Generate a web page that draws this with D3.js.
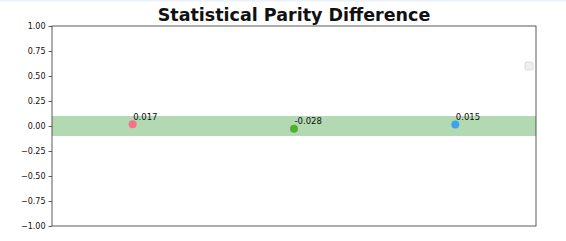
<!DOCTYPE html>
<html>
<head>
<meta charset="utf-8">
<script src="https://cdn.jsdelivr.net/npm/d3@7"></script>
<style>
  body { margin: 0; background: #fff; }
  svg { display: block; font-family: 'DejaVu Sans', sans-serif; }
</style>
</head>
<body>
<div id="chart"></div>
<script>
// Values
const groups = ['g0', 'g1', 'g2']
const parity = [0.017, -0.028, 0.015]
const colors = ['#f77189', '#50b131', '#3ba3ec']
const yTicks = [-1, -0.75, -0.5, -0.25, 0, 0.25, 0.5, 0.75, 1]
const fairBand = [-0.1, 0.1]

const width = 566, height = 241
const margin = { top: 26, right: 30, bottom: 15, left: 52 }

const svg = d3.select('#chart')
    .append('svg')
    .attr('width', width)
    .attr('height', height)

// thin tinted strip along the top of the frame
svg.append('rect')
    .attr('x', 0).attr('y', 0)
    .attr('width', width).attr('height', 1.5)
    .attr('fill', '#eaf2fb')

const x = d3.scalePoint()
    .domain(groups)
    .range([margin.left, width - margin.right])
    .padding(0.5)

const y = d3.scaleLinear()
    .domain([-1, 1])
    .range([height - margin.bottom, margin.top])

// acceptable band
svg.append('rect')
    .attr('x', margin.left)
    .attr('y', y(fairBand[1]))
    .attr('width', width - margin.right - margin.left)
    .attr('height', y(fairBand[0]) - y(fairBand[1]))
    .attr('fill', '#b3d9b3')

// frame
svg.append('rect')
    .attr('x', margin.left)
    .attr('y', margin.top)
    .attr('width', width - margin.right - margin.left)
    .attr('height', y(-1) - y(1))
    .attr('fill', 'none')
    .attr('stroke', '#333')
    .attr('stroke-width', 0.8)

const yAxis = svg.append('g')
    .attr('transform', `translate(${margin.left},0)`)
    .call(d3.axisLeft(y).tickValues(yTicks).tickSize(3.5).tickPadding(3)
        .tickFormat(d => d3.format('.2f')(d).replace('-', '\u2212')))
yAxis.select('.domain').remove()
yAxis.selectAll('line').attr('stroke', '#333').attr('stroke-width', 0.8)
yAxis.selectAll('text')
    .attr('font-family', 'DejaVu Sans, sans-serif')
    .attr('font-size', 8)
    .attr('fill', '#111')

// points
svg.selectAll('circle.pt')
    .data(groups)
    .enter()
    .append('circle')
    .attr('class', 'pt')
    .attr('cx', d => x(d))
    .attr('cy', (d, i) => y(parity[i]))
    .attr('r', 4)
    .attr('fill', (d, i) => colors[i])

// annotations use a plain hyphen, like python string formatting
svg.selectAll('text.val')
    .data(groups)
    .enter()
    .append('text')
    .attr('class', 'val')
    .attr('x', d => x(d) + 0.5)
    .attr('y', (d, i) => y(parity[i]) - 4.5)
    .attr('font-size', 8.5)
    .attr('fill', '#111')
    .text((d, i) => parity[i].toFixed(3))

// empty legend box
svg.append('rect')
    .attr('x', 525)
    .attr('y', 62)
    .attr('width', 8)
    .attr('height', 8)
    .attr('rx', 1.5)
    .attr('fill', '#efefef')
    .attr('stroke', '#d4d4d4')
    .attr('stroke-width', 0.8)

svg.append('text')
    .attr('x', (margin.left + width - margin.right) / 2)
    .attr('y', 21)
    .attr('text-anchor', 'middle')
    .attr('font-size', 17.5)
    .attr('font-weight', 'bold')
    .attr('fill', '#111')
    .text('Statistical Parity Difference')
</script>
</body>
</html>
